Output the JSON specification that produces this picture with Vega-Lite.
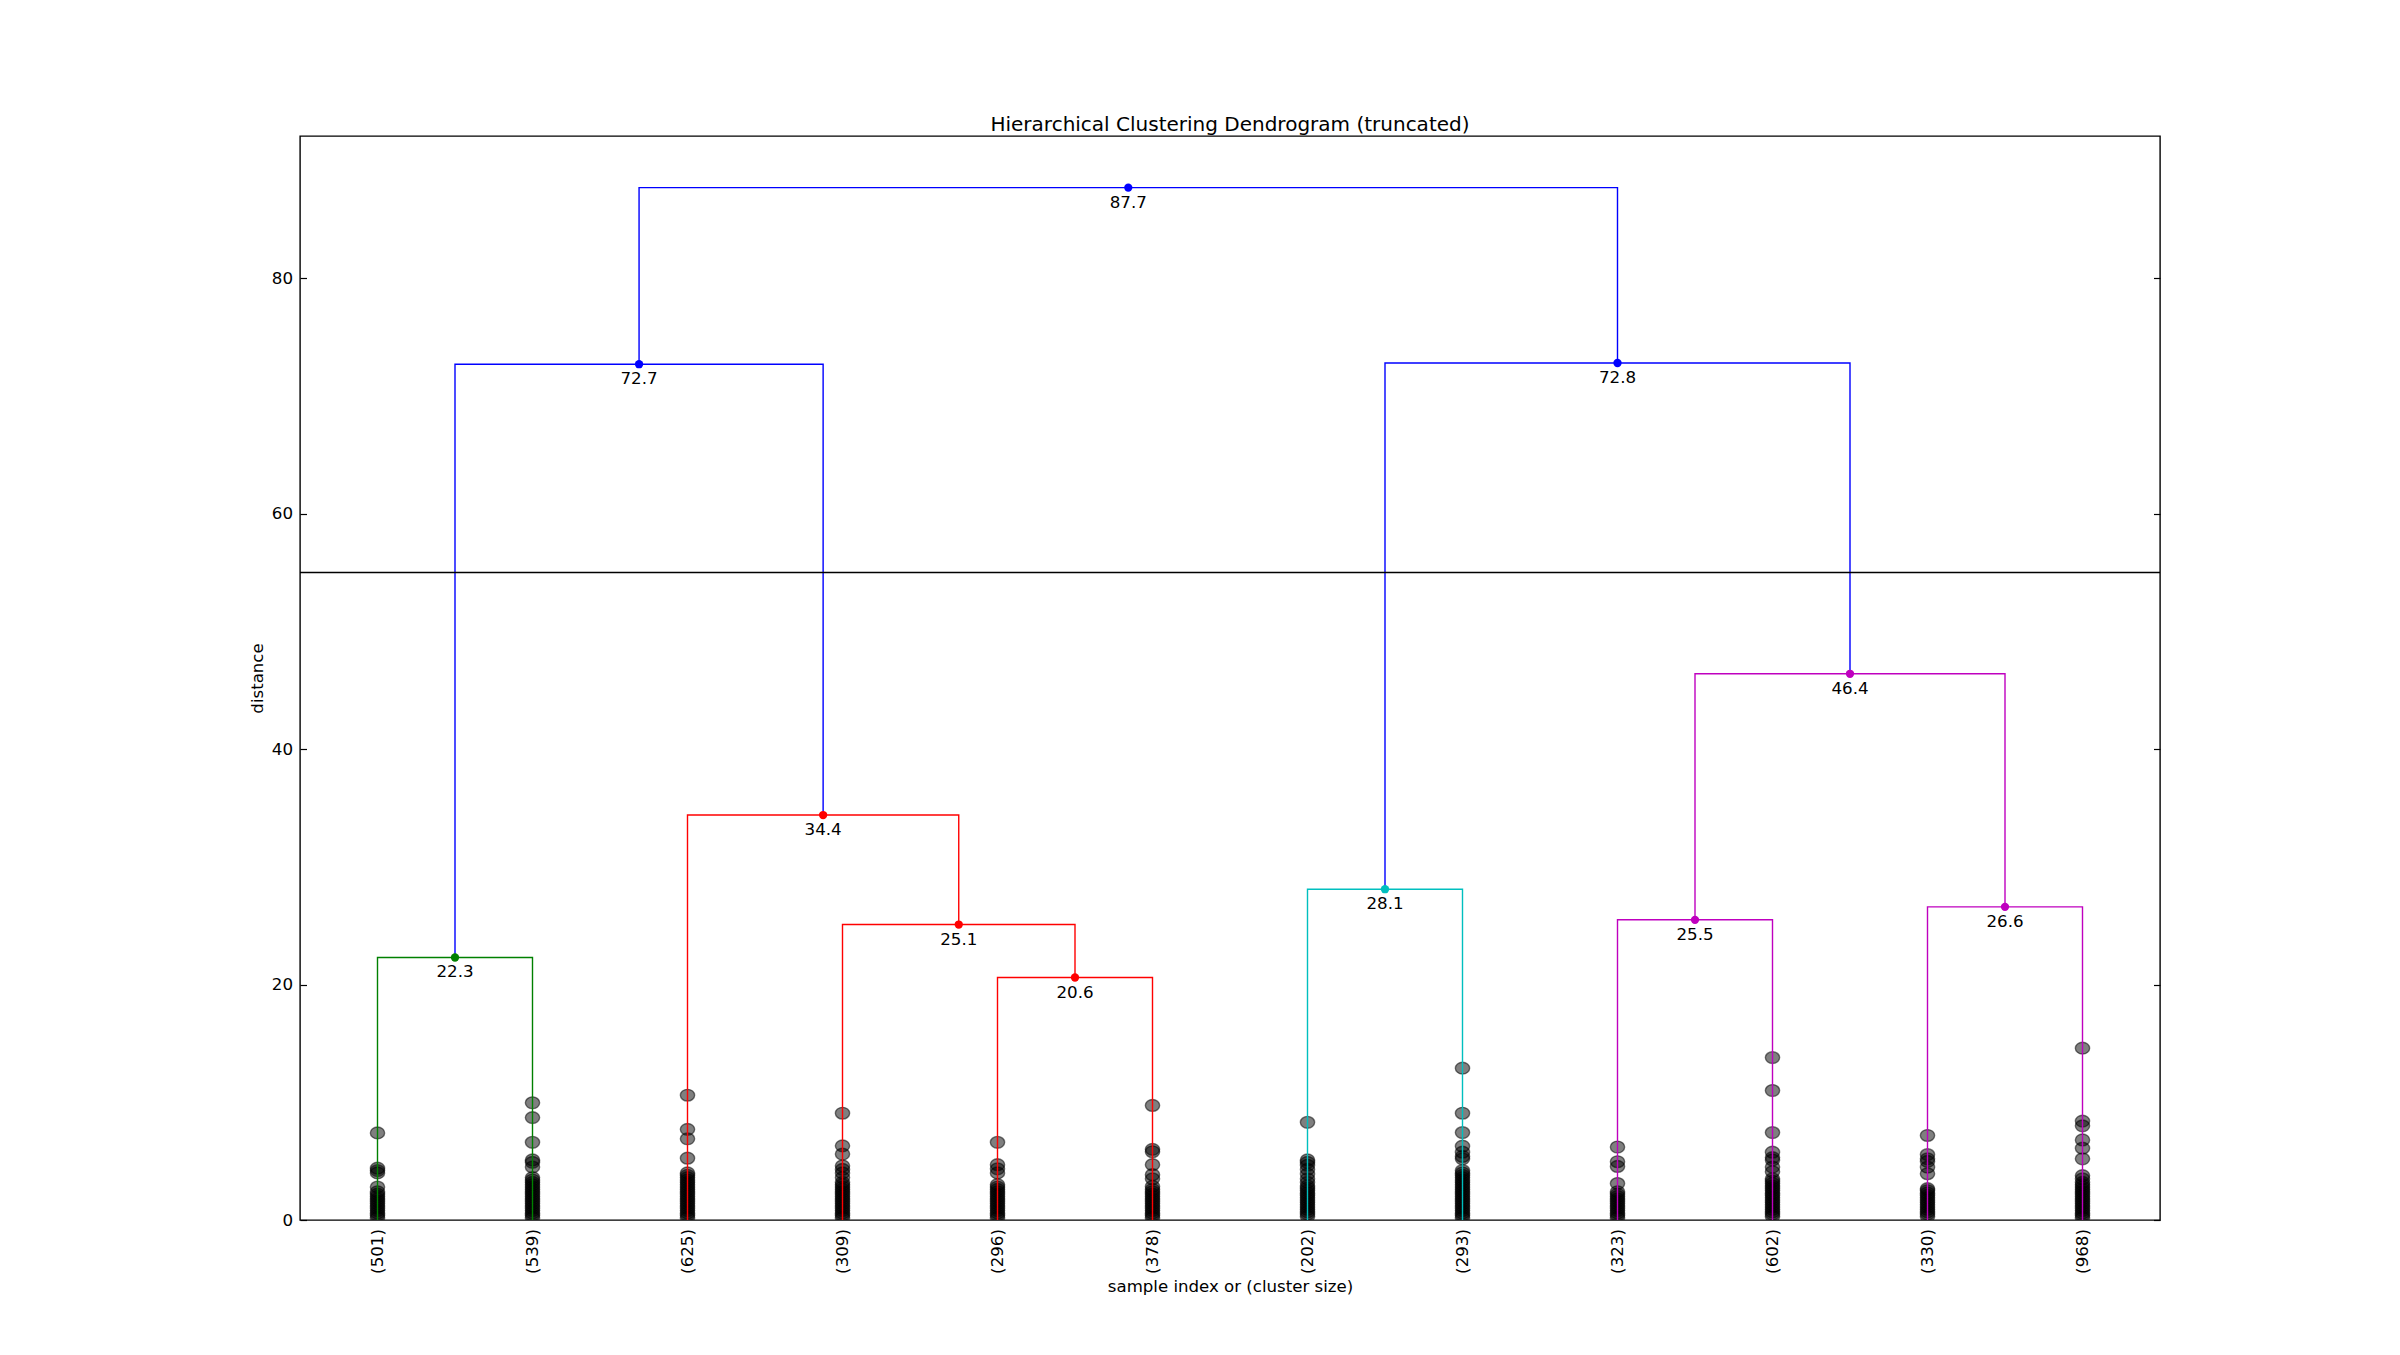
{
  "$schema": "https://vega.github.io/schema/vega-lite/v6.json",
  "width": 1860,
  "height": 1084,
  "autosize": "none",
  "padding": {"left": 300, "top": 136, "right": 240, "bottom": 135},
  "background": "white",
  "config": {
    "view": {"stroke": "black", "strokeWidth": 1.4},
    "font": "DejaVu Sans",
    "axis": {"labelFont": "DejaVu Sans", "titleFont": "DejaVu Sans"}
  },
  "title": {
    "text": "Hierarchical Clustering Dendrogram (truncated)",
    "fontSize": 20,
    "fontWeight": "normal",
    "color": "black",
    "font": "DejaVu Sans",
    "anchor": "middle",
    "frame": "group",
    "baseline": "alphabetic",
    "offset": 7,
    "dy": 22
  },
  "datasets": {
    "marks": [
      {"leaf": "(501)", "x": 5, "h": 7.4}, {"leaf": "(501)", "x": 5, "h": 4.4}, {"leaf": "(501)", "x": 5, "h": 4.2}, {"leaf": "(501)", "x": 5, "h": 4.0}, {"leaf": "(501)", "x": 5, "h": 2.8}, {"leaf": "(501)", "x": 5, "h": 2.4}, {"leaf": "(501)", "x": 5, "h": 2.2}, {"leaf": "(501)", "x": 5, "h": 2.0}, {"leaf": "(501)", "x": 5, "h": 1.8}, {"leaf": "(501)", "x": 5, "h": 1.6}, {"leaf": "(501)", "x": 5, "h": 1.4}, {"leaf": "(501)", "x": 5, "h": 1.2}, {"leaf": "(501)", "x": 5, "h": 1.0}, {"leaf": "(501)", "x": 5, "h": 0.8}, {"leaf": "(501)", "x": 5, "h": 0.6}, {"leaf": "(501)", "x": 5, "h": 0.4}, {"leaf": "(501)", "x": 5, "h": 0.2},
      {"leaf": "(539)", "x": 15, "h": 9.96}, {"leaf": "(539)", "x": 15, "h": 8.7}, {"leaf": "(539)", "x": 15, "h": 6.6}, {"leaf": "(539)", "x": 15, "h": 5.1}, {"leaf": "(539)", "x": 15, "h": 4.9}, {"leaf": "(539)", "x": 15, "h": 4.5}, {"leaf": "(539)", "x": 15, "h": 3.6}, {"leaf": "(539)", "x": 15, "h": 3.4}, {"leaf": "(539)", "x": 15, "h": 3.2}, {"leaf": "(539)", "x": 15, "h": 3.0}, {"leaf": "(539)", "x": 15, "h": 2.8}, {"leaf": "(539)", "x": 15, "h": 2.6}, {"leaf": "(539)", "x": 15, "h": 2.4}, {"leaf": "(539)", "x": 15, "h": 2.2}, {"leaf": "(539)", "x": 15, "h": 2.0}, {"leaf": "(539)", "x": 15, "h": 1.8}, {"leaf": "(539)", "x": 15, "h": 1.6}, {"leaf": "(539)", "x": 15, "h": 1.4}, {"leaf": "(539)", "x": 15, "h": 1.2}, {"leaf": "(539)", "x": 15, "h": 1.0}, {"leaf": "(539)", "x": 15, "h": 0.8}, {"leaf": "(539)", "x": 15, "h": 0.6}, {"leaf": "(539)", "x": 15, "h": 0.4}, {"leaf": "(539)", "x": 15, "h": 0.2},
      {"leaf": "(625)", "x": 25, "h": 10.6}, {"leaf": "(625)", "x": 25, "h": 7.7}, {"leaf": "(625)", "x": 25, "h": 6.9}, {"leaf": "(625)", "x": 25, "h": 5.25}, {"leaf": "(625)", "x": 25, "h": 4.0}, {"leaf": "(625)", "x": 25, "h": 3.8}, {"leaf": "(625)", "x": 25, "h": 3.6}, {"leaf": "(625)", "x": 25, "h": 3.4}, {"leaf": "(625)", "x": 25, "h": 3.2}, {"leaf": "(625)", "x": 25, "h": 3.0}, {"leaf": "(625)", "x": 25, "h": 2.8}, {"leaf": "(625)", "x": 25, "h": 2.6}, {"leaf": "(625)", "x": 25, "h": 2.4}, {"leaf": "(625)", "x": 25, "h": 2.2}, {"leaf": "(625)", "x": 25, "h": 2.0}, {"leaf": "(625)", "x": 25, "h": 1.8}, {"leaf": "(625)", "x": 25, "h": 1.6}, {"leaf": "(625)", "x": 25, "h": 1.4}, {"leaf": "(625)", "x": 25, "h": 1.2}, {"leaf": "(625)", "x": 25, "h": 1.0}, {"leaf": "(625)", "x": 25, "h": 0.8}, {"leaf": "(625)", "x": 25, "h": 0.6}, {"leaf": "(625)", "x": 25, "h": 0.4}, {"leaf": "(625)", "x": 25, "h": 0.2},
      {"leaf": "(309)", "x": 35, "h": 9.07}, {"leaf": "(309)", "x": 35, "h": 6.3}, {"leaf": "(309)", "x": 35, "h": 5.6}, {"leaf": "(309)", "x": 35, "h": 4.6}, {"leaf": "(309)", "x": 35, "h": 4.3}, {"leaf": "(309)", "x": 35, "h": 4.0}, {"leaf": "(309)", "x": 35, "h": 3.6}, {"leaf": "(309)", "x": 35, "h": 3.2}, {"leaf": "(309)", "x": 35, "h": 3.0}, {"leaf": "(309)", "x": 35, "h": 2.8}, {"leaf": "(309)", "x": 35, "h": 2.6}, {"leaf": "(309)", "x": 35, "h": 2.4}, {"leaf": "(309)", "x": 35, "h": 2.2}, {"leaf": "(309)", "x": 35, "h": 2.0}, {"leaf": "(309)", "x": 35, "h": 1.8}, {"leaf": "(309)", "x": 35, "h": 1.6}, {"leaf": "(309)", "x": 35, "h": 1.4}, {"leaf": "(309)", "x": 35, "h": 1.2}, {"leaf": "(309)", "x": 35, "h": 1.0}, {"leaf": "(309)", "x": 35, "h": 0.8}, {"leaf": "(309)", "x": 35, "h": 0.6}, {"leaf": "(309)", "x": 35, "h": 0.4}, {"leaf": "(309)", "x": 35, "h": 0.2},
      {"leaf": "(296)", "x": 45, "h": 6.6}, {"leaf": "(296)", "x": 45, "h": 4.7}, {"leaf": "(296)", "x": 45, "h": 4.35}, {"leaf": "(296)", "x": 45, "h": 4.0}, {"leaf": "(296)", "x": 45, "h": 3.0}, {"leaf": "(296)", "x": 45, "h": 2.8}, {"leaf": "(296)", "x": 45, "h": 2.6}, {"leaf": "(296)", "x": 45, "h": 2.4}, {"leaf": "(296)", "x": 45, "h": 2.2}, {"leaf": "(296)", "x": 45, "h": 2.0}, {"leaf": "(296)", "x": 45, "h": 1.8}, {"leaf": "(296)", "x": 45, "h": 1.6}, {"leaf": "(296)", "x": 45, "h": 1.4}, {"leaf": "(296)", "x": 45, "h": 1.2}, {"leaf": "(296)", "x": 45, "h": 1.0}, {"leaf": "(296)", "x": 45, "h": 0.8}, {"leaf": "(296)", "x": 45, "h": 0.6}, {"leaf": "(296)", "x": 45, "h": 0.4}, {"leaf": "(296)", "x": 45, "h": 0.2},
      {"leaf": "(378)", "x": 55, "h": 9.73}, {"leaf": "(378)", "x": 55, "h": 6.0}, {"leaf": "(378)", "x": 55, "h": 5.8}, {"leaf": "(378)", "x": 55, "h": 4.7}, {"leaf": "(378)", "x": 55, "h": 3.85}, {"leaf": "(378)", "x": 55, "h": 3.5}, {"leaf": "(378)", "x": 55, "h": 2.85}, {"leaf": "(378)", "x": 55, "h": 2.6}, {"leaf": "(378)", "x": 55, "h": 2.4}, {"leaf": "(378)", "x": 55, "h": 2.2}, {"leaf": "(378)", "x": 55, "h": 2.0}, {"leaf": "(378)", "x": 55, "h": 1.8}, {"leaf": "(378)", "x": 55, "h": 1.6}, {"leaf": "(378)", "x": 55, "h": 1.4}, {"leaf": "(378)", "x": 55, "h": 1.2}, {"leaf": "(378)", "x": 55, "h": 1.0}, {"leaf": "(378)", "x": 55, "h": 0.8}, {"leaf": "(378)", "x": 55, "h": 0.6}, {"leaf": "(378)", "x": 55, "h": 0.4}, {"leaf": "(378)", "x": 55, "h": 0.2},
      {"leaf": "(202)", "x": 65, "h": 8.3}, {"leaf": "(202)", "x": 65, "h": 5.1}, {"leaf": "(202)", "x": 65, "h": 4.9}, {"leaf": "(202)", "x": 65, "h": 4.65}, {"leaf": "(202)", "x": 65, "h": 4.3}, {"leaf": "(202)", "x": 65, "h": 3.9}, {"leaf": "(202)", "x": 65, "h": 3.5}, {"leaf": "(202)", "x": 65, "h": 3.2}, {"leaf": "(202)", "x": 65, "h": 2.9}, {"leaf": "(202)", "x": 65, "h": 2.7}, {"leaf": "(202)", "x": 65, "h": 2.5}, {"leaf": "(202)", "x": 65, "h": 2.3}, {"leaf": "(202)", "x": 65, "h": 2.1}, {"leaf": "(202)", "x": 65, "h": 1.9}, {"leaf": "(202)", "x": 65, "h": 1.7}, {"leaf": "(202)", "x": 65, "h": 1.5}, {"leaf": "(202)", "x": 65, "h": 1.3}, {"leaf": "(202)", "x": 65, "h": 1.1}, {"leaf": "(202)", "x": 65, "h": 0.9}, {"leaf": "(202)", "x": 65, "h": 0.7}, {"leaf": "(202)", "x": 65, "h": 0.5}, {"leaf": "(202)", "x": 65, "h": 0.3},
      {"leaf": "(293)", "x": 75, "h": 12.9}, {"leaf": "(293)", "x": 75, "h": 9.07}, {"leaf": "(293)", "x": 75, "h": 7.43}, {"leaf": "(293)", "x": 75, "h": 6.27}, {"leaf": "(293)", "x": 75, "h": 5.76}, {"leaf": "(293)", "x": 75, "h": 5.4}, {"leaf": "(293)", "x": 75, "h": 5.2}, {"leaf": "(293)", "x": 75, "h": 4.2}, {"leaf": "(293)", "x": 75, "h": 4.0}, {"leaf": "(293)", "x": 75, "h": 3.8}, {"leaf": "(293)", "x": 75, "h": 3.6}, {"leaf": "(293)", "x": 75, "h": 3.4}, {"leaf": "(293)", "x": 75, "h": 3.2}, {"leaf": "(293)", "x": 75, "h": 3.0}, {"leaf": "(293)", "x": 75, "h": 2.8}, {"leaf": "(293)", "x": 75, "h": 2.6}, {"leaf": "(293)", "x": 75, "h": 2.4}, {"leaf": "(293)", "x": 75, "h": 2.2}, {"leaf": "(293)", "x": 75, "h": 2.0}, {"leaf": "(293)", "x": 75, "h": 1.8}, {"leaf": "(293)", "x": 75, "h": 1.6}, {"leaf": "(293)", "x": 75, "h": 1.4}, {"leaf": "(293)", "x": 75, "h": 1.2}, {"leaf": "(293)", "x": 75, "h": 1.0}, {"leaf": "(293)", "x": 75, "h": 0.8}, {"leaf": "(293)", "x": 75, "h": 0.6}, {"leaf": "(293)", "x": 75, "h": 0.4}, {"leaf": "(293)", "x": 75, "h": 0.2},
      {"leaf": "(323)", "x": 85, "h": 6.2}, {"leaf": "(323)", "x": 85, "h": 4.95}, {"leaf": "(323)", "x": 85, "h": 4.55}, {"leaf": "(323)", "x": 85, "h": 3.1}, {"leaf": "(323)", "x": 85, "h": 2.4}, {"leaf": "(323)", "x": 85, "h": 2.2}, {"leaf": "(323)", "x": 85, "h": 2.0}, {"leaf": "(323)", "x": 85, "h": 1.8}, {"leaf": "(323)", "x": 85, "h": 1.6}, {"leaf": "(323)", "x": 85, "h": 1.4}, {"leaf": "(323)", "x": 85, "h": 1.2}, {"leaf": "(323)", "x": 85, "h": 1.0}, {"leaf": "(323)", "x": 85, "h": 0.8}, {"leaf": "(323)", "x": 85, "h": 0.6}, {"leaf": "(323)", "x": 85, "h": 0.4}, {"leaf": "(323)", "x": 85, "h": 0.2},
      {"leaf": "(602)", "x": 95, "h": 13.8}, {"leaf": "(602)", "x": 95, "h": 11.0}, {"leaf": "(602)", "x": 95, "h": 7.43}, {"leaf": "(602)", "x": 95, "h": 5.76}, {"leaf": "(602)", "x": 95, "h": 5.3}, {"leaf": "(602)", "x": 95, "h": 5.1}, {"leaf": "(602)", "x": 95, "h": 4.5}, {"leaf": "(602)", "x": 95, "h": 4.1}, {"leaf": "(602)", "x": 95, "h": 3.5}, {"leaf": "(602)", "x": 95, "h": 3.3}, {"leaf": "(602)", "x": 95, "h": 3.1}, {"leaf": "(602)", "x": 95, "h": 2.9}, {"leaf": "(602)", "x": 95, "h": 2.7}, {"leaf": "(602)", "x": 95, "h": 2.5}, {"leaf": "(602)", "x": 95, "h": 2.3}, {"leaf": "(602)", "x": 95, "h": 2.1}, {"leaf": "(602)", "x": 95, "h": 1.9}, {"leaf": "(602)", "x": 95, "h": 1.7}, {"leaf": "(602)", "x": 95, "h": 1.5}, {"leaf": "(602)", "x": 95, "h": 1.3}, {"leaf": "(602)", "x": 95, "h": 1.1}, {"leaf": "(602)", "x": 95, "h": 0.9}, {"leaf": "(602)", "x": 95, "h": 0.7}, {"leaf": "(602)", "x": 95, "h": 0.5}, {"leaf": "(602)", "x": 95, "h": 0.3},
      {"leaf": "(330)", "x": 105, "h": 7.18}, {"leaf": "(330)", "x": 105, "h": 5.56}, {"leaf": "(330)", "x": 105, "h": 5.2}, {"leaf": "(330)", "x": 105, "h": 4.98}, {"leaf": "(330)", "x": 105, "h": 4.49}, {"leaf": "(330)", "x": 105, "h": 3.93}, {"leaf": "(330)", "x": 105, "h": 2.66}, {"leaf": "(330)", "x": 105, "h": 2.5}, {"leaf": "(330)", "x": 105, "h": 2.3}, {"leaf": "(330)", "x": 105, "h": 2.1}, {"leaf": "(330)", "x": 105, "h": 1.9}, {"leaf": "(330)", "x": 105, "h": 1.7}, {"leaf": "(330)", "x": 105, "h": 1.5}, {"leaf": "(330)", "x": 105, "h": 1.3}, {"leaf": "(330)", "x": 105, "h": 1.1}, {"leaf": "(330)", "x": 105, "h": 0.9}, {"leaf": "(330)", "x": 105, "h": 0.7}, {"leaf": "(330)", "x": 105, "h": 0.5}, {"leaf": "(330)", "x": 105, "h": 0.3},
      {"leaf": "(968)", "x": 115, "h": 14.6}, {"leaf": "(968)", "x": 115, "h": 8.4}, {"leaf": "(968)", "x": 115, "h": 8.0}, {"leaf": "(968)", "x": 115, "h": 6.8}, {"leaf": "(968)", "x": 115, "h": 6.1}, {"leaf": "(968)", "x": 115, "h": 5.2}, {"leaf": "(968)", "x": 115, "h": 3.77}, {"leaf": "(968)", "x": 115, "h": 3.5}, {"leaf": "(968)", "x": 115, "h": 3.2}, {"leaf": "(968)", "x": 115, "h": 3.0}, {"leaf": "(968)", "x": 115, "h": 2.8}, {"leaf": "(968)", "x": 115, "h": 2.6}, {"leaf": "(968)", "x": 115, "h": 2.4}, {"leaf": "(968)", "x": 115, "h": 2.2}, {"leaf": "(968)", "x": 115, "h": 2.0}, {"leaf": "(968)", "x": 115, "h": 1.8}, {"leaf": "(968)", "x": 115, "h": 1.6}, {"leaf": "(968)", "x": 115, "h": 1.4}, {"leaf": "(968)", "x": 115, "h": 1.2}, {"leaf": "(968)", "x": 115, "h": 1.0}, {"leaf": "(968)", "x": 115, "h": 0.8}, {"leaf": "(968)", "x": 115, "h": 0.6}, {"leaf": "(968)", "x": 115, "h": 0.4}, {"leaf": "(968)", "x": 115, "h": 0.2}
    ],
    "links": [
      {"link": 1, "i": 0, "x": 5, "y": 0, "c": "g"}, {"link": 1, "i": 1, "x": 5, "y": 22.3, "c": "g"}, {"link": 1, "i": 2, "x": 15, "y": 22.3, "c": "g"}, {"link": 1, "i": 3, "x": 15, "y": 0, "c": "g"},
      {"link": 2, "i": 0, "x": 45, "y": 0, "c": "r"}, {"link": 2, "i": 1, "x": 45, "y": 20.6, "c": "r"}, {"link": 2, "i": 2, "x": 55, "y": 20.6, "c": "r"}, {"link": 2, "i": 3, "x": 55, "y": 0, "c": "r"},
      {"link": 3, "i": 0, "x": 35, "y": 0, "c": "r"}, {"link": 3, "i": 1, "x": 35, "y": 25.1, "c": "r"}, {"link": 3, "i": 2, "x": 50, "y": 25.1, "c": "r"}, {"link": 3, "i": 3, "x": 50, "y": 20.6, "c": "r"},
      {"link": 4, "i": 0, "x": 25, "y": 0, "c": "r"}, {"link": 4, "i": 1, "x": 25, "y": 34.4, "c": "r"}, {"link": 4, "i": 2, "x": 42.5, "y": 34.4, "c": "r"}, {"link": 4, "i": 3, "x": 42.5, "y": 25.1, "c": "r"},
      {"link": 5, "i": 0, "x": 10, "y": 22.3, "c": "b"}, {"link": 5, "i": 1, "x": 10, "y": 72.7, "c": "b"}, {"link": 5, "i": 2, "x": 33.75, "y": 72.7, "c": "b"}, {"link": 5, "i": 3, "x": 33.75, "y": 34.4, "c": "b"},
      {"link": 6, "i": 0, "x": 65, "y": 0, "c": "c"}, {"link": 6, "i": 1, "x": 65, "y": 28.1, "c": "c"}, {"link": 6, "i": 2, "x": 75, "y": 28.1, "c": "c"}, {"link": 6, "i": 3, "x": 75, "y": 0, "c": "c"},
      {"link": 7, "i": 0, "x": 85, "y": 0, "c": "m"}, {"link": 7, "i": 1, "x": 85, "y": 25.5, "c": "m"}, {"link": 7, "i": 2, "x": 95, "y": 25.5, "c": "m"}, {"link": 7, "i": 3, "x": 95, "y": 0, "c": "m"},
      {"link": 8, "i": 0, "x": 105, "y": 0, "c": "m"}, {"link": 8, "i": 1, "x": 105, "y": 26.6, "c": "m"}, {"link": 8, "i": 2, "x": 115, "y": 26.6, "c": "m"}, {"link": 8, "i": 3, "x": 115, "y": 0, "c": "m"},
      {"link": 9, "i": 0, "x": 90, "y": 25.5, "c": "m"}, {"link": 9, "i": 1, "x": 90, "y": 46.4, "c": "m"}, {"link": 9, "i": 2, "x": 110, "y": 46.4, "c": "m"}, {"link": 9, "i": 3, "x": 110, "y": 26.6, "c": "m"},
      {"link": 10, "i": 0, "x": 70, "y": 28.1, "c": "b"}, {"link": 10, "i": 1, "x": 70, "y": 72.8, "c": "b"}, {"link": 10, "i": 2, "x": 100, "y": 72.8, "c": "b"}, {"link": 10, "i": 3, "x": 100, "y": 46.4, "c": "b"},
      {"link": 11, "i": 0, "x": 21.875, "y": 72.7, "c": "b"}, {"link": 11, "i": 1, "x": 21.875, "y": 87.7, "c": "b"}, {"link": 11, "i": 2, "x": 85, "y": 87.7, "c": "b"}, {"link": 11, "i": 3, "x": 85, "y": 72.8, "c": "b"}
    ],
    "merges": [
      {"x": 10, "y": 22.3, "c": "g", "label": "22.3"},
      {"x": 50, "y": 20.6, "c": "r", "label": "20.6"},
      {"x": 42.5, "y": 25.1, "c": "r", "label": "25.1"},
      {"x": 33.75, "y": 34.4, "c": "r", "label": "34.4"},
      {"x": 21.875, "y": 72.7, "c": "b", "label": "72.7"},
      {"x": 70, "y": 28.1, "c": "c", "label": "28.1"},
      {"x": 90, "y": 25.5, "c": "m", "label": "25.5"},
      {"x": 110, "y": 26.6, "c": "m", "label": "26.6"},
      {"x": 100, "y": 46.4, "c": "m", "label": "46.4"},
      {"x": 85, "y": 72.8, "c": "b", "label": "72.8"},
      {"x": 53.4375, "y": 87.7, "c": "b", "label": "87.7"}
    ],
    "leaves": [
      {"x": 5, "label": "(501)"}, {"x": 15, "label": "(539)"}, {"x": 25, "label": "(625)"}, {"x": 35, "label": "(309)"},
      {"x": 45, "label": "(296)"}, {"x": 55, "label": "(378)"}, {"x": 65, "label": "(202)"}, {"x": 75, "label": "(293)"},
      {"x": 85, "label": "(323)"}, {"x": 95, "label": "(602)"}, {"x": 105, "label": "(330)"}, {"x": 115, "label": "(968)"}
    ],
    "cut": [{"cut": 55}]
  },
  "resolve": {"axis": {"y": "independent"}},
  "layer": [
    {
      "data": {"name": "marks"},
      "mark": {
        "type": "point",
        "shape": "M-1,0C-1,-0.455,-0.552,-0.825,0,-0.825C0.552,-0.825,1,-0.455,1,0C1,0.455,0.552,0.825,0,0.825C-0.552,0.825,-1,0.455,-1,0Z",
        "size": 204,
        "filled": true,
        "fill": "black",
        "fillOpacity": 0.5,
        "stroke": "black",
        "strokeOpacity": 0.5,
        "strokeWidth": 1.4,
        "clip": true
      },
      "encoding": {
        "x": {
          "field": "x", "type": "quantitative",
          "scale": {"domain": [0, 120], "nice": false, "zero": false},
          "axis": {
            "orient": "bottom", "labels": false, "ticks": false, "domain": false, "grid": false,
            "title": "sample index or (cluster size)", "titleFontSize": 16.6, "titleFontWeight": "normal",
            "titleColor": "black", "titlePadding": 58, "titleBaseline": "top"
          }
        },
        "y": {
          "field": "h", "type": "quantitative",
          "scale": {"domain": [0, 92.085], "nice": false, "zero": false},
          "axis": {
            "orient": "left", "values": [0, 20, 40, 60, 80], "format": "d",
            "tickSize": -6.5, "tickColor": "black", "tickWidth": 1.2,
            "labelFontSize": 16.7, "labelColor": "black", "labelPadding": 14,
            "domain": false, "grid": false,
            "title": "distance", "titleFontSize": 16.6, "titleFontWeight": "normal",
            "titleColor": "black", "titlePadding": 6
          }
        }
      }
    },
    {
      "data": {"name": "links"},
      "mark": {"type": "line", "strokeWidth": 1.4, "interpolate": "linear"},
      "encoding": {
        "x": {"field": "x", "type": "quantitative"},
        "y": {
          "field": "y", "type": "quantitative",
          "axis": {
            "orient": "right", "values": [0, 20, 40, 60, 80], "labels": false,
            "tickSize": -6.5, "tickColor": "black", "tickWidth": 1.2,
            "domain": false, "grid": false, "title": null
          }
        },
        "color": {
          "field": "c", "type": "nominal",
          "scale": {"domain": ["b", "g", "r", "c", "m"], "range": ["#0000ff", "#008000", "#ff0000", "#00bfbf", "#bf00bf"]},
          "legend": null
        },
        "detail": {"field": "link", "type": "nominal"},
        "order": {"field": "i", "type": "quantitative"}
      }
    },
    {
      "data": {"name": "cut"},
      "mark": {"type": "rule", "color": "black", "strokeWidth": 1.4},
      "encoding": {
        "y": {"field": "cut", "type": "quantitative", "axis": null}
      }
    },
    {
      "data": {"name": "merges"},
      "mark": {"type": "point", "shape": "circle", "filled": true, "size": 69, "opacity": 1},
      "encoding": {
        "x": {"field": "x", "type": "quantitative"},
        "y": {"field": "y", "type": "quantitative", "axis": null},
        "color": {"field": "c", "type": "nominal", "legend": null}
      }
    },
    {
      "data": {"name": "merges"},
      "mark": {"type": "text", "baseline": "top", "align": "center", "dy": 7, "fontSize": 16.7, "font": "DejaVu Sans", "color": "black"},
      "encoding": {
        "x": {"field": "x", "type": "quantitative"},
        "y": {"field": "y", "type": "quantitative", "axis": null},
        "text": {"field": "label", "type": "nominal"}
      }
    },
    {
      "data": {"name": "leaves"},
      "mark": {"type": "text", "angle": 270, "align": "right", "baseline": "middle", "dx": -9, "fontSize": 16.7, "font": "DejaVu Sans", "color": "black", "clip": false},
      "encoding": {
        "x": {"field": "x", "type": "quantitative"},
        "y": {"datum": 0, "type": "quantitative", "axis": null},
        "text": {"field": "label", "type": "nominal"}
      }
    }
  ]
}
